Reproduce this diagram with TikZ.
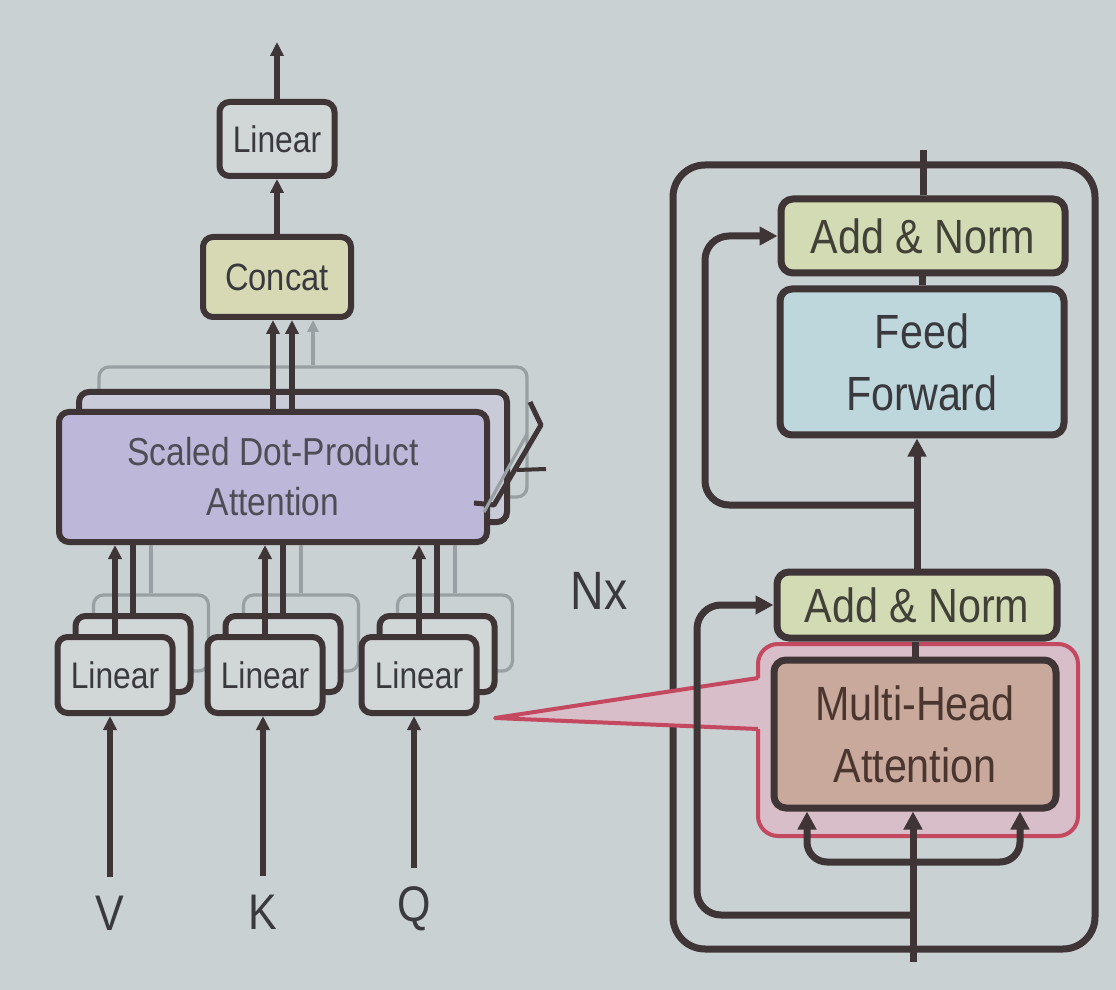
\documentclass[tikz,border=0pt]{standalone}
\usepackage{fontspec}
\setmainfont[FakeStretch=0.86]{Liberation Sans}
\usetikzlibrary{arrows.meta,calc}
\definecolor{bg}{HTML}{C9D1D3}
\definecolor{linec}{HTML}{3F3436}
\definecolor{textc}{HTML}{3A3A3E}
\definecolor{linfill}{HTML}{D1D7D7}
\definecolor{concatfill}{HTML}{D6D9B4}
\definecolor{sdpafill}{HTML}{BDB8D9}
\definecolor{sdpaback}{HTML}{CACBD8}
\definecolor{anfill}{HTML}{D3DBB5}
\definecolor{fffill}{HTML}{BED7DD}
\definecolor{mhafill}{HTML}{C8A99C}
\definecolor{mhatext}{HTML}{4A362F}
\definecolor{pinkfill}{HTML}{D7BEC8}
\definecolor{pinkline}{HTML}{C4485F}
\definecolor{grayline}{HTML}{98A0A3}
\begin{document}
\begin{tikzpicture}[x=0.5pt,y=-0.5pt,
  lbox/.style={draw=linec, line width=3pt, rounded corners=5pt, inner sep=0pt, align=center, text=textc},
  gbox/.style={draw=grayline, line width=1.6pt, fill=bg, rounded corners=5pt, inner sep=0pt},
  rbox/.style={draw=linec, line width=3.5pt, rounded corners=6pt, inner sep=0pt, align=center},
  arrL/.style={draw=linec, line width=3pt, -{Triangle[length=7pt,width=6.5pt]}},
  arrR/.style={draw=linec, line width=3.5pt, -{Triangle[length=9pt,width=9pt]}},
  lineL/.style={draw=linec, line width=3pt},
  lineR/.style={draw=linec, line width=3.5pt},
  gline/.style={draw=grayline, line width=1.6pt},
  garr/.style={draw=grayline, line width=1.6pt, -{Triangle[length=6pt,width=5.5pt]}},
  lintxt/.style={font=\fontsize{18.5}{22}\selectfont},
  rtxt/.style={font=\fontsize{24}{31}\selectfont},
  lab/.style={inner sep=0pt, text=textc, font=\fontsize{25}{30}\selectfont}
]
\fill[bg] (0,0) rectangle (1116,990);
\useasboundingbox (0,0) rectangle (1116,990);

% ---------------- left: multi-head attention ----------------
\node[lbox, fill=linfill, lintxt, minimum width=57.5pt, minimum height=37pt] (linTop) at (277,139) {Linear};
\node[lbox, fill=concatfill, font=\fontsize{19}{23}\selectfont, minimum width=74pt, minimum height=40pt] (concat) at (277,277) {Concat};

\node[gbox, minimum width=214pt, minimum height=65pt] (sdpa3) at (313,432) {};
\node[lbox, fill=sdpaback, minimum width=214pt, minimum height=65pt] (sdpa2) at (293,457) {};
\node[lbox, fill=sdpafill, text=textc!85!sdpafill, font=\fontsize{19.5}{25}\selectfont, minimum width=214pt, minimum height=65pt] (sdpa) at (273,477) {Scaled Dot-Product\\Attention};

% h-marker at the right of the stack
\draw[linec, line width=2.5pt, line join=round] (530,402) -- (541,425) -- (494,505) -- (474,503);
\draw[linec, line width=2pt] (517,470) -- (546,469);
\draw[grayline, line width=1.6pt] (527,434) -- (484,512);

% linear stacks
\node[gbox, minimum width=57.5pt, minimum height=38pt] (linV3) at (151,633) {};
\node[gbox, minimum width=57.5pt, minimum height=38pt] (linK3) at (301,633) {};
\node[gbox, minimum width=57.5pt, minimum height=38pt] (linQ3) at (455,633) {};
\node[lbox, fill=linfill, minimum width=57.5pt, minimum height=38pt] (linV2) at (133,654) {};
\node[lbox, fill=linfill, minimum width=57.5pt, minimum height=38pt] (linK2) at (283,654) {};
\node[lbox, fill=linfill, minimum width=57.5pt, minimum height=38pt] (linQ2) at (437,654) {};
\node[lbox, fill=linfill, lintxt, minimum width=57.5pt, minimum height=38pt] (linV) at (115,675) {Linear};
\node[lbox, fill=linfill, lintxt, minimum width=57.5pt, minimum height=38pt] (linK) at (265,675) {Linear};
\node[lbox, fill=linfill, lintxt, minimum width=57.5pt, minimum height=38pt] (linQ) at (419,675) {Linear};

% labels
\node[lab] (labV) at (110,913) {V};
\node[lab] (labK) at (263,912) {K};
\node[lab] (labQ) at (414,909) {Q};
\node[lab, font=\fontsize{27}{30}\selectfont] (nx) at (599,591) {Nx};

% connectors, left
\coordinate (outL) at (277,42);
\draw[arrL] (linTop.north) -- (outL);
\draw[arrL] (concat.north) -- (concat.north |- linTop.south);
\draw[arrL] (sdpa.north) -- (sdpa.north |- concat.south);
\draw[arrL] ($(sdpa.north)+(19,0)$) -- ($(sdpa.north |- concat.south)+(19,0)$);
\draw[garr] (sdpa3.north) -- (sdpa3.north |- concat.south);
\foreach \n in {V,K,Q}{
  \draw[gline] (lin\n3.north) -- (lin\n3.north |- sdpa.south);
  \draw[lineL] (lin\n2.north) -- (lin\n2.north |- sdpa.south);
  \draw[arrL] (lin\n.north) -- (lin\n.north |- sdpa.south);
  \draw[arrL] ([yshift=9pt]lab\n.north) -- (lab\n.north |- lin\n.south);
}

% ---------------- right: encoder layer ----------------
\node[draw=linec, line width=3.5pt, rounded corners=16pt, minimum width=211pt, minimum height=392pt] (outer) at (884,557) {};

\node[draw=pinkline, line width=2pt, fill=pinkfill, rounded corners=10pt, minimum width=160pt, minimum height=96pt] (hl) at (918,740) {};
\coordinate (apex) at (495,718);
\fill[pinkfill] (apex) -- (762,678) -- (762,729) -- cycle;
\draw[pinkline, line width=2pt, line join=round] (758,678) -- (apex) -- (758,729);

\node[rbox, fill=anfill, rtxt, text=textc!90!olive, minimum width=142pt, minimum height=37pt] (an2) at (923,236) {Add \& Norm};
\node[rbox, fill=fffill, rtxt, text=textc, minimum width=142pt, minimum height=73pt] (ff) at (922,362) {Feed\\Forward};
\node[rbox, fill=anfill, rtxt, text=textc!90!olive, minimum width=140pt, minimum height=33pt] (an1) at (917,605) {Add \& Norm};
\node[rbox, fill=mhafill, rtxt, text=mhatext, minimum width=141pt, minimum height=74pt] (mha) at (915,734) {Multi-Head\\Attention};

\coordinate (topend) at (923,150);
\coordinate (inp) at (913,962);
\coordinate (r2) at (917,505);
\coordinate (r1) at (913,915);
\coordinate (b0) at (913,862);

\draw[lineR] (an2.north) -- (topend);
\draw[lineR] (ff.north) -- (ff.north |- an2.south);
\draw[arrR] (an1.north) -- (an1.north |- ff.south);
\draw[lineR] (mha.north) -- (mha.north |- an1.south);
\draw[arrR] (inp) -- (inp |- mha.south);
\draw[arrR, rounded corners=12pt] (r2) -- (705,505) |- (an2.west);
\draw[arrR, rounded corners=12pt] (r1) -- (697,915) |- (an1.west);
\draw[arrR, rounded corners=10pt] (b0) -| ($(mha.south)+(-108,0)$);
\draw[arrR, rounded corners=10pt] (b0) -| ($(mha.south)+(105,0)$);
\end{tikzpicture}
\end{document}
